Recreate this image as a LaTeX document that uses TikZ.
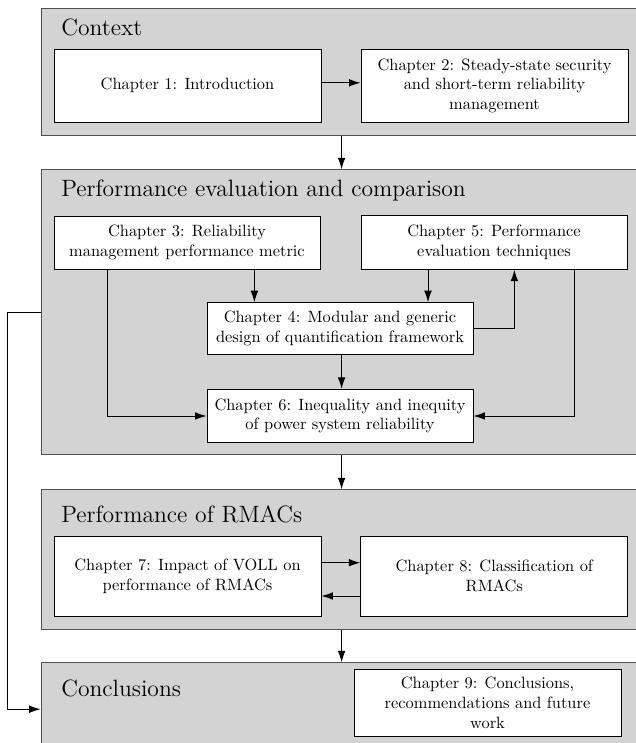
\documentclass[tikz,border=0pt]{standalone}
\usetikzlibrary{arrows.meta}
\newdimen\pxu \pxu=0.61pt
\definecolor{grpfill}{RGB}{211,211,211}
\definecolor{grpline}{RGB}{80,80,80}
\tikzset{
  grp/.style={draw=grpline, fill=grpfill, line width=0.6pt, anchor=north west,
              minimum width=620\pxu, inner sep=0pt},
  grptitle/.style={anchor=base west, inner sep=0pt, font=\Large},
  chap/.style={draw=black, fill=white, line width=0.6pt, align=center,
               inner sep=2pt, font=\normalsize},
  arr/.style={-{Latex[length=7pt,width=4.7pt]}, line width=0.6pt},
}
\begin{document}
\begin{tikzpicture}[x=0.61pt,y=-0.61pt]
\useasboundingbox (0,0) rectangle (636,743);
\clip (0,0) rectangle (636,743);

% group panels
\node[grp, minimum height=126.7\pxu] (context) at (40.6,8.3) {};
\node[grp, minimum height=284.7\pxu] (perf) at (40.6,169.3) {};
\node[grp, minimum height=140\pxu] (rmac) at (40.6,489.3) {};
\node[grp, minimum height=92.8\pxu] (concl) at (40.6,662.3) {};

% group titles
\node[grptitle] (tcontext) at (61,35.7) {Context};
\node[grptitle] (tperf) at (61,196) {Performance evaluation and comparison};
\node[grptitle] (trmac) at (61,522.7) {Performance of RMACs};
\node[grptitle] (tconcl) at (61,696) {Conclusions};

% chapter boxes
\node[chap, minimum width=267\pxu, minimum height=73\pxu] (ch1) at (187.5,85.8) {Chapter 1: Introduction};
\node[chap, minimum width=267\pxu, minimum height=73\pxu] (ch2) at (494.5,85.8) {Chapter 2: Steady-state security\\and short-term reliability\\management};
\node[chap, minimum width=266\pxu, minimum height=53.3\pxu] (ch3) at (187,242.7) {Chapter 3: Reliability\\management performance metric};
\node[chap, minimum width=266\pxu, minimum height=54\pxu] (ch5) at (494,242.2) {Chapter 5: Performance\\evaluation techniques};
\node[chap, minimum width=266\pxu, minimum height=51.6\pxu] (ch4) at (340,328.5) {Chapter 4: Modular and generic\\design of quantification framework};
\node[chap, minimum width=266\pxu, minimum height=53.4\pxu] (ch6) at (340,416) {Chapter 6: Inequality and inequity\\of power system reliability};
\node[chap, minimum width=267\pxu, minimum height=80\pxu] (ch7) at (187.5,576) {Chapter 7: Impact of VOLL on\\performance of RMACs};
\node[chap, minimum width=267\pxu, minimum height=80\pxu] (ch8) at (494.3,576) {Chapter 8: Classification of\\RMACs};
\node[chap, minimum width=267\pxu, minimum height=66.7\pxu] (ch9) at (487.5,702.7) {Chapter 9: Conclusions,\\recommendations and future\\work};

% helper x positions
\coordinate (xa) at (254.4,0);
\coordinate (xb) at (428,0);
\coordinate (xc) at (514.4,0);
\coordinate (xd) at (107.5,0);
\coordinate (xe) at (574.4,0);
\coordinate (xf) at (7.3,0);
\coordinate (xm) at (341.6,0);

% connectors
\draw[arr] ([yshift=3\pxu]ch1.east) -- ([yshift=3\pxu]ch2.west);
\draw[arr] (context.south -| xm) -- (perf.north -| xm);
\draw[arr] (perf.south -| xm) -- (rmac.north -| xm);
\draw[arr] (rmac.south -| xm) -- (concl.north -| xm);

\draw[arr] (ch3.south -| xa) -- (ch4.north -| xa);
\draw[arr] (ch5.south -| xb) -- (ch4.north -| xb);
\draw[arr] (ch4.east) -| (xc |- ch5.south);
\draw[arr] (ch4.south -| xm) -- (ch6.north -| xm);
\draw[arr] (ch3.south -| xd) |- (ch6.west);
\draw[arr] (ch5.south -| xe) |- (ch6.east);

\draw[arr] ([yshift=13.3\pxu]ch7.east) -- ([yshift=13.3\pxu]ch8.west);
\draw[arr] ([yshift=-20\pxu]ch8.west) -- ([yshift=-20\pxu]ch7.east);

\draw[arr] (perf.west) -- (perf.west -| xf) |- (concl.west);
\end{tikzpicture}
\end{document}
